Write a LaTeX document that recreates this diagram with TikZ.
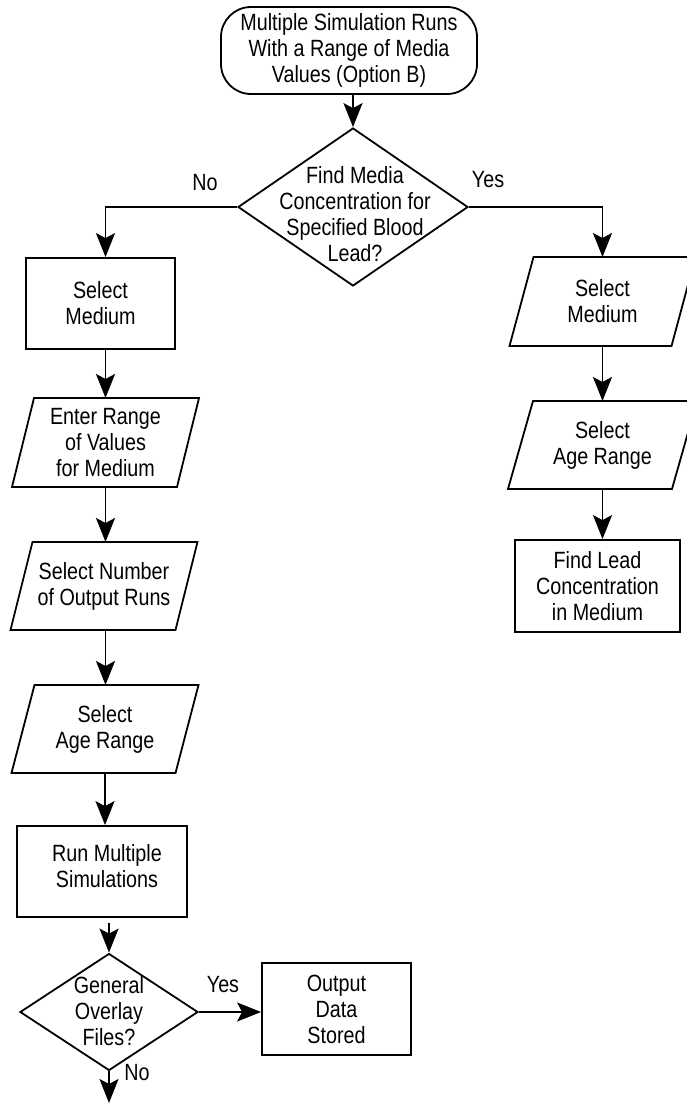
\documentclass[tikz,border=0pt]{standalone}
\usepackage{fontspec}
\setmainfont{Liberation Sans}[FakeStretch=0.84]
\usetikzlibrary{arrows.meta,shapes.geometric,calc}
\begin{document}
\begin{tikzpicture}[x=1pt,y=-1pt,line width=1.8pt,
  every node/.style={font=\fontsize{23.5}{26}\selectfont,align=center,inner sep=0pt},
  flow/.style={-{Stealth[length=24pt,width=19pt,inset=5pt]}},
  procbox/.style={draw,rectangle,minimum width=#1},
  terminal/.style={draw,rectangle,rounded corners=30pt},
  decision/.style={draw,diamond},
  iobox/.style={rectangle,outer sep=0pt},
  tag/.style={}]
\useasboundingbox (0,0) rectangle (686,1103);

% start terminal and first decision
\node[terminal,minimum width=256pt,minimum height=87pt] (start) at (349,50.5)
  {Multiple Simulation Runs\\With a Range of Media\\Values (Option B)};
\node[decision,minimum width=230pt,minimum height=158pt] (d1) at (353,207) {};
\node (d1text) at (355,214) {Find Media\\Concentration for\\Specified Blood\\Lead?};

% left branch
\node[procbox=149pt,minimum height=91pt] (sel1) at (100.5,303.5) {Select\\Medium};
\node[iobox,minimum width=165pt,minimum height=89pt] (enter) at (105.5,442.5) {Enter Range\\of Values\\for Medium};
\node[iobox,minimum width=165pt,minimum height=88pt] (num) at (104,586) {Select Number\\of Output Runs};
\node[iobox,minimum width=164pt,minimum height=88pt] (age) at (105,729) {Select\\Age Range};
\node[procbox=170pt,minimum height=91pt] (run) at (102,871.5) {};
\node (runtext) at (107,866) {Run Multiple\\Simulations};
\node[decision,minimum width=178pt,minimum height=117pt] (d2) at (109,1012) {};
\node (d2text) at (109,1011) {General\\Overlay\\Files?};
\node[procbox=149pt,minimum height=92pt] (out) at (336.5,1009) {Output\\Data\\Stored};
\coordinate (exit) at (109,1103);

% right branch
\node[iobox,minimum width=162pt,minimum height=89pt] (rsel) at (602.5,301.5) {Select\\Medium};
\node[iobox,minimum width=164pt,minimum height=88pt] (rage) at (602.5,445) {Select\\Age Range};
\node[procbox=165pt,minimum height=92pt] (find) at (597.5,586) {Find Lead\\Concentration\\in Medium};

% slanted input/output outlines
\foreach \n/\s in {enter/11,num/11,age/11.5,rsel/12,rage/12.5}
  \draw ($(\n.north west)+(\s,0)$) -- ($(\n.north east)+(\s,0)$)
     -- ($(\n.south east)-(\s,0)$) -- ($(\n.south west)-(\s,0)$) -- cycle;

% branch labels
\node[tag] (no1) at (205,183) {No};
\node[tag] (yes1) at (488,180) {Yes};
\node[tag] (yes2) at (223,985) {Yes};
\node[tag] (no2) at (137,1073) {No};

% connectors
\draw[flow] (start.south -| d1.north) -- (d1.north);
\draw[flow] (d1.west) -| (enter.north |- sel1.north);
\draw[flow] (sel1.south -| enter.north) -- (enter.north);
\draw[flow] (enter.south) -- (enter.south |- num.north);
\draw[flow] (num.south -| enter.south) -- (enter.south |- age.north);
\draw[flow] (age.south) -- (age.south |- run.north);
\draw[flow] ($(run.south -| d2.north)+(0,5)$) -- (d2.north);
\draw[flow] (d2.east) -- (d2.east -| out.west);
\draw[flow] (d2.south) -- (exit);
\draw[flow] (d1.east) -| (rsel.north);
\draw[flow] (rsel.south) -- (rage.north);
\draw[flow] (rage.south) -- (rage.south |- find.north);
\end{tikzpicture}
\end{document}
